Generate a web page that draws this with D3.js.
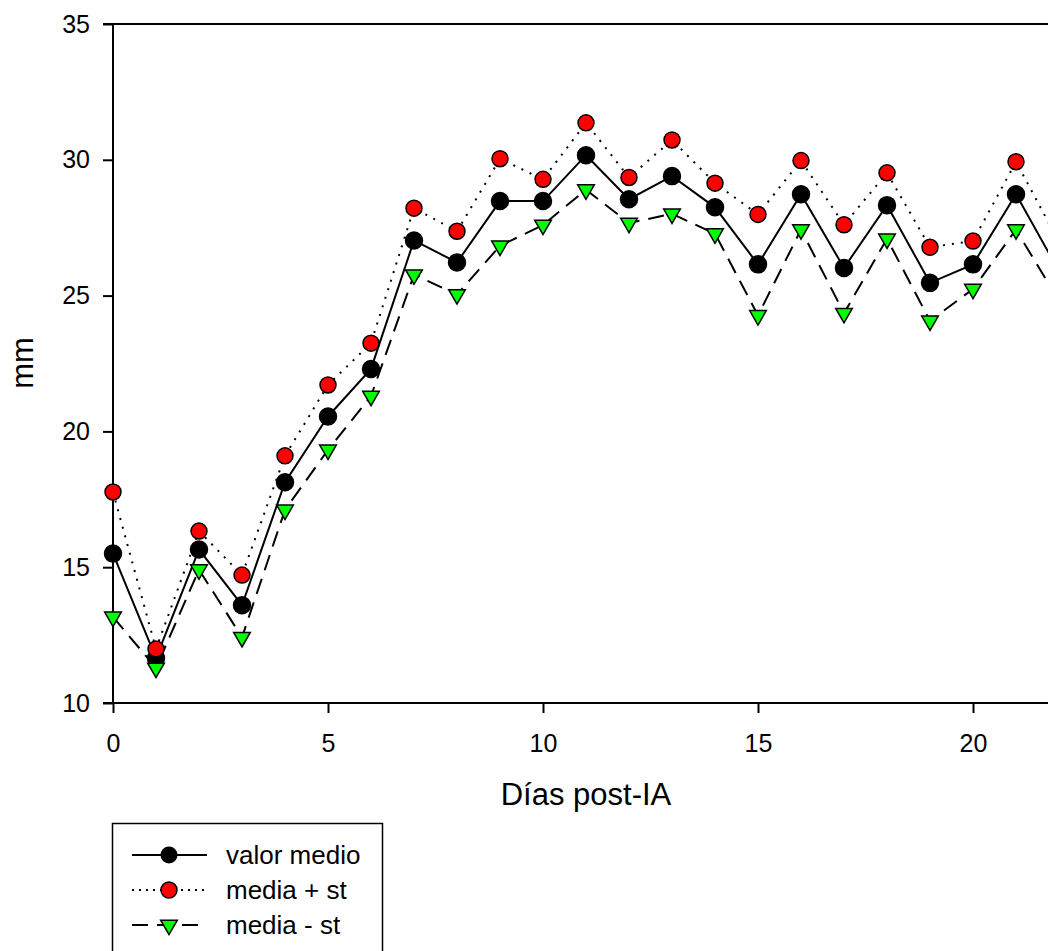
<!DOCTYPE html>
<html>
<head>
<meta charset="utf-8">
<script src="https://cdn.jsdelivr.net/npm/d3@7"></script>
<style>
  html, body { margin: 0; padding: 0; background: #fff; }
  svg { display: block; font-family: "Liberation Sans", Arial, sans-serif; }
</style>
</head>
<body>
<svg id="chart" width="1048" height="951"></svg>
<script>
// ---- data ----
const days = [0,1,2,3,4,5,6,7,8,9,10,11,12,13,14,15,16,17,18,19,20,21,22];
const valorMedio = [15.5,11.65,15.65,13.6,18.13,20.55,22.3,27.03,26.22,28.48,28.48,30.17,28.55,29.4,28.25,26.15,28.73,26.02,28.33,25.47,26.15,28.73,25.9];
const mediaMas   = [17.77,11.99,16.33,14.71,19.1,21.71,23.25,28.22,27.37,30.04,29.28,31.36,29.35,30.73,29.14,27.99,29.97,27.61,29.52,26.78,27.01,29.93,26.97];
const mediaMenos = [13.17,11.29,14.91,12.42,17.11,19.32,21.3,25.77,25.04,26.83,27.6,28.9,27.67,28.01,27.28,24.27,27.43,24.35,27.09,24.07,25.24,27.43,24.8];
const xTicks = [0,5,10,15,20];
const yTicks = [10,15,20,25,30,35];
const legendLabels = ["valor medio","media + st","media - st"];

// ---- layout ----
const svg = d3.select("#chart");
const mLeft = 113, mTop = 24, mRight = 113 + 946, mBottom = 703;
const x = d3.scaleLinear().domain([0,22]).range([mLeft, mRight]);
const y = d3.scaleLinear().domain([10,35]).range([mBottom, mTop]);

// axes
const yAxis = d3.axisLeft(y).tickValues(yTicks).tickSize(10).tickPadding(13);
const gy = svg.append("g").attr("transform", `translate(${mLeft},0)`).call(yAxis);
const xAxis = d3.axisBottom(x).tickValues(xTicks).tickSize(10).tickPadding(21);
const gx = svg.append("g").attr("transform", `translate(0,${mBottom})`).call(xAxis);
[gx, gy].forEach(g => {
  g.select(".domain").remove();
  g.selectAll(".tick line").attr("stroke", "#000").attr("stroke-width", 2);
  g.selectAll(".tick text").attr("fill", "#000").style("font-size", "25px")
   .style("font-family", '"Liberation Sans", Arial, sans-serif');
});
// frame lines
svg.append("line").attr("x1", mLeft).attr("x2", mLeft).attr("y1", mTop).attr("y2", mBottom)
  .attr("stroke", "#000").attr("stroke-width", 2);
svg.append("line").attr("x1", mLeft - 10).attr("x2", mRight).attr("y1", mBottom).attr("y2", mBottom)
  .attr("stroke", "#000").attr("stroke-width", 2);
svg.append("line").attr("x1", mLeft - 10).attr("x2", mRight).attr("y1", mTop).attr("y2", mTop)
  .attr("stroke", "#000").attr("stroke-width", 2);

// axis titles
svg.append("text").attr("x", (mLeft + mRight) / 2).attr("y", 805).attr("text-anchor", "middle")
  .style("font-size", "31px").text("Días post-IA");
svg.append("text").attr("transform", "translate(33,363) rotate(-90)").attr("text-anchor", "middle")
  .style("font-size", "31px").text("mm");

// series
const line = d3.line().x((d, i) => x(days[i])).y(d => y(d));
const tri = d3.symbol().type(d3.symbolTriangle).size(120);

function drawCircles(vals, fill, r) {
  svg.append("g").selectAll("circle").data(vals).join("circle")
    .attr("cx", (d, i) => x(days[i])).attr("cy", d => y(d)).attr("r", r)
    .attr("fill", fill).attr("stroke", "#000").attr("stroke-width", 1.5);
}
function drawTriangles(vals) {
  svg.append("g").selectAll("path").data(vals).join("path")
    .attr("d", tri)
    .attr("transform", (d, i) => `translate(${x(days[i])},${y(d)}) rotate(180)`)
    .attr("fill", "#00ff00").attr("stroke", "#000").attr("stroke-width", 1.5);
}

// mean
svg.append("path").datum(valorMedio).attr("d", line).attr("fill", "none")
  .attr("stroke", "#000").attr("stroke-width", 2);
drawCircles(valorMedio, "#000", 8.5);
// mean - st
svg.append("path").datum(mediaMenos).attr("d", line).attr("fill", "none")
  .attr("stroke", "#000").attr("stroke-width", 2).attr("stroke-dasharray", "16,9");
drawTriangles(mediaMenos);
// mean + st
svg.append("path").datum(mediaMas).attr("d", line).attr("fill", "none")
  .attr("stroke", "#000").attr("stroke-width", 2).attr("stroke-dasharray", "2,7");
drawCircles(mediaMas, "#ff0000", 8);

// legend
const lg = svg.append("g");
lg.append("rect").attr("x", 112.5).attr("y", 823.5).attr("width", 270).attr("height", 160)
  .attr("fill", "#fff").attr("stroke", "#000").attr("stroke-width", 1.5);
const rowsY = [855, 890, 925];
const dashes = [null, "2,5", "16,9"];
legendLabels.forEach((lab, k) => {
  const yy = rowsY[k];
  lg.append("line").attr("x1", 132).attr("x2", 207).attr("y1", yy).attr("y2", yy)
    .attr("stroke", "#000").attr("stroke-width", 2)
    .attr("stroke-dasharray", dashes[k]);
  if (k === 0) lg.append("circle").attr("cx", 169).attr("cy", yy).attr("r", 8.5).attr("fill", "#000");
  if (k === 1) lg.append("circle").attr("cx", 169).attr("cy", yy).attr("r", 8)
    .attr("fill", "#ff0000").attr("stroke", "#000").attr("stroke-width", 1.5);
  if (k === 2) lg.append("path").attr("d", tri).attr("transform", `translate(169,${yy}) rotate(180)`)
    .attr("fill", "#00ff00").attr("stroke", "#000").attr("stroke-width", 1.5);
  lg.append("text").attr("x", 226).attr("y", yy + 9).style("font-size", "26px").text(lab);
});
</script>
</body>
</html>
